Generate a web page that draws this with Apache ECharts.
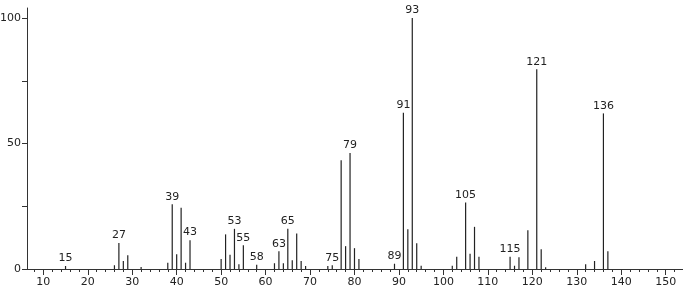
<!DOCTYPE html>
<html>
<head>
<meta charset="utf-8">
<script src="https://cdn.jsdelivr.net/npm/echarts@6/dist/echarts.min.js"></script>
<style>
html,body{margin:0;padding:0;background:#fff;}
#chart{width:683px;height:291px;}
</style>
</head>
<body>
<div id="chart"></div>
<script>
const mz = [15,26,27,28,29,32,38,39,40,41,42,43,50,51,52,53,54,55,58,62,63,64,65,66,67,68,69,74,75,77,78,79,80,81,89,91,92,93,94,95,102,103,105,106,107,108,115,116,117,119,121,122,123,132,134,136,137];
const intensity = [1.2,1.5,10.4,3.2,5.5,0.8,2.5,25.8,5.9,24.4,2.5,11.5,4.0,13.8,5.7,16.0,1.9,9.5,1.7,2.3,7.1,2.3,16.0,3.5,14.1,3.2,1.2,1.2,1.5,43.3,9.1,46.2,8.3,4.0,2.1,62.3,15.8,100,10.3,1.3,1.3,4.9,26.5,6.1,16.8,4.9,4.9,1.3,4.7,15.4,79.6,7.9,0.7,1.9,3.2,62.0,7.1];
const labeledPeaks = [15,27,39,43,53,55,58,63,65,75,79,89,91,93,105,115,121,136];
const xMajorTicks = [10,20,30,40,50,60,70,80,90,100,110,120,130,140,150];
const xMinorTicks = [8,12,14,16,18,22,24,26,28,32,34,36,38,42,44,46,48,52,54,56,58,62,64,66,68,72,74,76,78,82,84,86,88,92,94,96,98,102,104,106,108,112,114,116,118,122,124,126,128,132,134,136,138,142,144,146,148,152];
const yTicks = [0,25,50,75,100];
const yLabels = [0,50,100];

const FONT = 'DejaVu Sans';
const data = mz.map((m, i) => {
  const item = { value: [m, intensity[i]] };
  if (labeledPeaks.includes(m)) item.label = { show: true };
  return item;
});

const chart = echarts.init(document.getElementById('chart'), null, {renderer: 'canvas'});
chart.setOption({
  animation: false,
  grid: { left: 27, right: 0, top: 8, bottom: 22, containLabel: false, outerBoundsMode: 'none' },
  xAxis: [{
    type: 'value', min: 6.33, max: 153.9,
    axisLine: { show: true, lineStyle: { color: '#333', width: 1 } },
    axisTick: { show: true, customValues: xMajorTicks, length: 6, lineStyle: { color: '#333' } },
    axisLabel: { show: true, customValues: xMajorTicks, margin: 8, color: '#222', fontFamily: FONT, fontSize: 11 },
    splitLine: { show: false }
  }, {
    type: 'value', min: 6.33, max: 153.9, position: 'bottom',
    axisLine: { show: false },
    axisTick: { show: true, customValues: xMinorTicks, length: 3, lineStyle: { color: '#333' } },
    axisLabel: { show: false },
    splitLine: { show: false }
  }],
  yAxis: {
    type: 'value', min: 0, max: 104,
    axisLine: { show: true, lineStyle: { color: '#333', width: 1 } },
    axisTick: { show: true, customValues: yTicks, length: 5, lineStyle: { color: '#333' } },
    axisLabel: { show: true, customValues: yLabels, margin: 6, color: '#222', fontFamily: FONT, fontSize: 11 },
    splitLine: { show: false }
  },
  series: [{
    type: 'bar',
    xAxisIndex: 0,
    barWidth: 1.2,
    itemStyle: { color: '#222' },
    label: { show: false, position: 'top', distance: 2, color: '#222', fontFamily: FONT, fontSize: 11,
      formatter: p => String(p.value[0]) },
    data: data
  }]
});
</script>
</body>
</html>
